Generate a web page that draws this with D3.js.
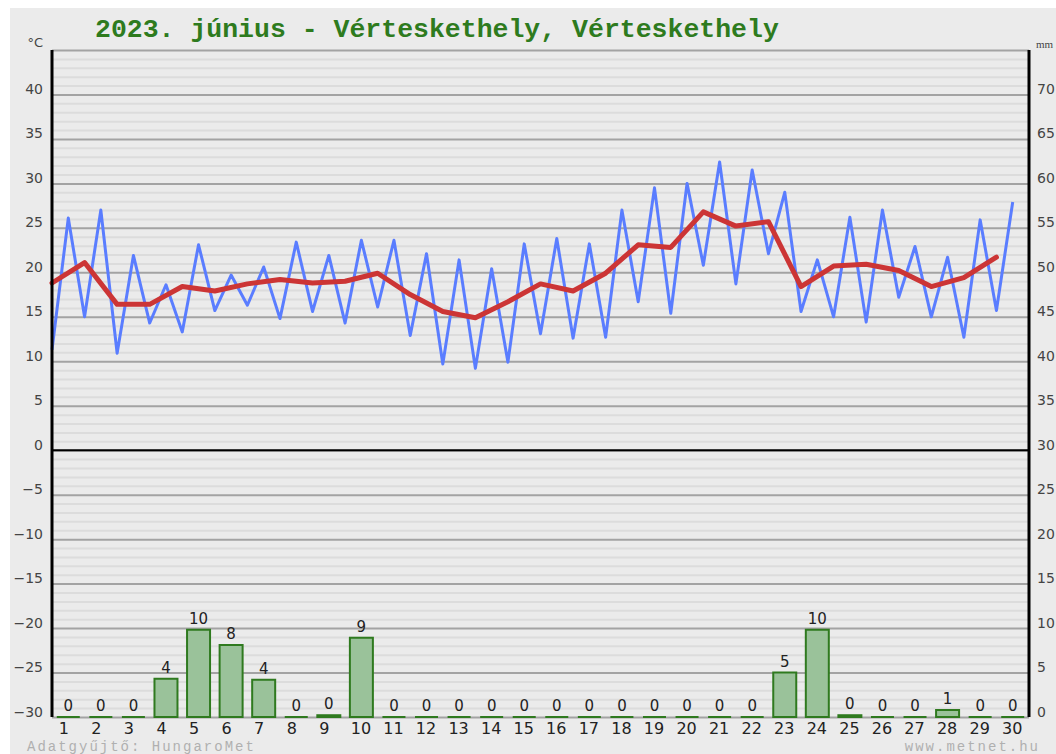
<!DOCTYPE html>
<html>
<head>
<meta charset="utf-8">
<script src="https://cdn.jsdelivr.net/npm/d3@7"></script>
<style>
  body { margin: 0; background: #fff; }
  svg { display: block; }
</style>
</head>
<body>
<svg width="1056" height="754"></svg>
<script>
// napi adatok (június 1-30)
const days = d3.range(1, 31);
const tMin = [11.3, 15.0, 10.9, 14.3, 13.3, 15.7, 16.3, 14.8, 15.6, 14.3, 16.1, 12.9, 9.7, 9.2, 9.9,
              13.1, 12.6, 12.7, 16.7, 15.4, 20.8, 18.7, 22.1, 15.6, 15.0, 14.4, 17.2, 15.0, 12.7, 15.7];
const tMax = [26.1, 27.0, 21.9, 18.6, 23.1, 19.7, 20.6, 23.4, 21.9, 23.6, 23.6, 22.1, 21.4, 20.4, 23.2,
              23.8, 23.2, 27.0, 29.5, 30.0, 32.4, 31.5, 29.0, 21.4, 26.2, 27.0, 22.9, 21.7, 25.9, 27.9];
const tAvg = [18.8, 21.1, 16.4, 16.4, 18.4, 17.9, 18.7, 19.2, 18.8, 19.0, 19.9, 17.5, 15.6, 14.9, 16.7,
              18.7, 17.9, 19.9, 23.1, 22.8, 26.8, 25.2, 25.7, 18.4, 20.7, 20.9, 20.2, 18.4, 19.4, 21.7];
const precip = [0, 0, 0, 4.3, 9.8, 8.1, 4.2, 0, 0.2, 8.9, 0, 0, 0, 0, 0, 0, 0, 0, 0, 0,
                0, 0, 5.0, 9.8, 0.2, 0, 0, 0.8, 0, 0];
const tempTicks = d3.range(-30, 41, 5);
const mmTicks = d3.range(0, 71, 5);

const title = "2023. június - Vérteskethely, Vérteskethely";

const svg = d3.select("svg");
const pLeft = 52, pRight = 1029, pTop = 50, pBottom = 717;
const plotW = pRight - pLeft;

// háttér
svg.append("rect").attr("x", 10).attr("y", 8).attr("width", 1046).attr("height", 746).attr("fill", "#ebebeb");

// skálák
const x = d3.scaleLinear().domain([0, 30]).range([pLeft, pRight]);
const y = d3.scaleLinear().domain([-30, 45]).range([pBottom, pTop]);
const yMm = d3.scaleLinear().domain([0, 75]).range([pBottom, pTop]);

// rácsvonalak
const grid = svg.append("g").attr("transform", `translate(${pLeft},0)`)
  .call(d3.axisLeft(y).tickValues(d3.range(-30, 46)).tickSize(-plotW).tickFormat(""));
grid.select(".domain").remove();
grid.selectAll(".tick line")
  .attr("stroke", d => d % 5 === 0 ? "#a3a3a3" : "#dcdcdc")
  .attr("stroke-width", 2);

// nulla vonal
svg.append("line").attr("x1", pLeft).attr("x2", pRight).attr("y1", y(0)).attr("y2", y(0))
  .attr("stroke", "#000").attr("stroke-width", 2);

// csapadék oszlopok
const barW = 23;
svg.append("g").selectAll("path").data(precip).enter().append("path")
  .attr("d", (d, i) => {
    const cx = x(i + 0.5), y0 = yMm(0), y1 = yMm(d);
    return `M${cx - barW / 2},${y0}V${y1}H${cx + barW / 2}V${y0}Z`;
  })
  .attr("fill", "#9ac29a")
  .attr("stroke", "#2f7a1f")
  .attr("stroke-width", 2);

svg.append("g").selectAll("text").data(precip).enter().append("text")
  .attr("x", (d, i) => x(i + 0.5))
  .attr("y", d => yMm(d) - 6)
  .attr("text-anchor", "middle")
  .style("font", "15px 'DejaVu Sans'")
  .attr("fill", "#222")
  .text(d => Math.round(d));

// hőmérséklet: min/max cikkcakk
const zig = [];
days.forEach((d, i) => {
  zig.push([i, tMin[i]]);
  zig.push([i + 0.5, tMax[i]]);
});
const line = d3.line().x(d => x(d[0])).y(d => y(d[1]));
svg.append("path").datum(zig).attr("d", line)
  .attr("fill", "none").attr("stroke", "#5a7dff").attr("stroke-width", 3)
  .attr("stroke-linejoin", "round");

// napi átlag
svg.append("path").datum(tAvg.map((v, i) => [i, v])).attr("d", line)
  .attr("fill", "none").attr("stroke", "#cc3535").attr("stroke-width", 5)
  .attr("stroke-linejoin", "round").attr("stroke-linecap", "round");

// tengelyek
const yAxis = svg.append("g").attr("transform", `translate(${pLeft},0)`)
  .call(d3.axisLeft(y).tickValues(tempTicks).tickSize(0).tickPadding(9));
yAxis.select(".domain").remove();
yAxis.selectAll("text").attr("dy", -1).attr("fill", "#444").style("font", "14px 'DejaVu Sans'");

const mmAxis = svg.append("g").attr("transform", `translate(${pRight},0)`)
  .call(d3.axisRight(yMm).tickValues(mmTicks).tickSize(0).tickPadding(8));
mmAxis.select(".domain").remove();
mmAxis.selectAll("text").attr("dy", -1).attr("fill", "#444").style("font", "14px 'DejaVu Sans'");

const xAxis = svg.append("g").attr("transform", `translate(0,${pBottom})`)
  .call(d3.axisBottom(x).tickValues(days.map(d => d - 0.5)).tickSize(0)
    .tickFormat(d => d + 0.5));
xAxis.select(".domain").remove();
xAxis.selectAll("text")
  .attr("x", d => String(d + 0.5).length === 1 ? -5 : -1)
  .attr("y", 0).attr("dy", 17)
  .attr("fill", "#222").style("font", "16px 'DejaVu Sans'");

svg.append("line").attr("x1", pLeft).attr("x2", pLeft).attr("y1", pTop).attr("y2", pBottom)
  .attr("stroke", "#000").attr("stroke-width", 3);
svg.append("line").attr("x1", pRight).attr("x2", pRight).attr("y1", pTop).attr("y2", pBottom)
  .attr("stroke", "#000").attr("stroke-width", 3);

// feliratok
svg.append("text").attr("x", 95).attr("y", 37)
  .style("font", "bold 26.5px 'Liberation Mono'").attr("fill", "#2e7b1e").text(title);
svg.append("text").attr("x", 43).attr("y", 47).attr("text-anchor", "end")
  .style("font", "13px 'DejaVu Sans'").attr("fill", "#444").text("°C");
svg.append("text").attr("x", 1036).attr("y", 48)
  .style("font", "11px 'Liberation Serif'").attr("fill", "#444").text("mm");
svg.append("text").attr("x", 27).attr("y", 751)
  .style("font", "14px 'Liberation Mono'").style("letter-spacing", "2px")
  .attr("fill", "#b0b0b0").text("Adatgyűjtő: HungaroMet");
svg.append("text").attr("x", 1040).attr("y", 751).attr("text-anchor", "end")
  .style("font", "14px 'Liberation Mono'").style("letter-spacing", "2px")
  .attr("fill", "#b0b0b0").text("www.metnet.hu");
</script>
</body>
</html>
